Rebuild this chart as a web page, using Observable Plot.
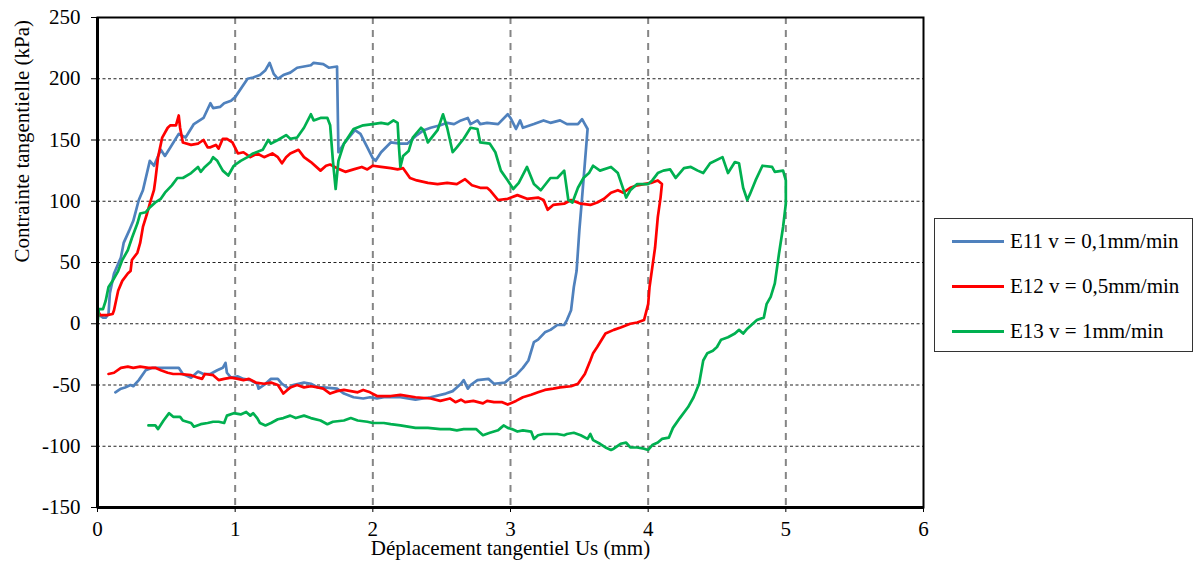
<!DOCTYPE html>
<html>
<head>
<meta charset="utf-8">
<script src="https://cdn.jsdelivr.net/npm/d3@7"></script>
<script src="https://cdn.jsdelivr.net/npm/@observablehq/plot@0.6"></script>
<style>
  html, body { margin: 0; padding: 0; background: #fff; overflow: hidden; }
  #wrap { position: relative; width: 1194px; height: 565px; font-family: "Liberation Serif", serif; }
  #wrap svg text { font-family: "Liberation Serif", serif; }
  #legend { position: absolute; left: 934px; top: 218px; width: 259px; height: 134px; box-sizing: border-box; border: 1px solid #333; background: #fff; }
  .item { position: absolute; left: 0; height: 30px; width: 100%; }
  .swatch { position: absolute; left: 17px; top: 13.5px; width: 52px; height: 3px; }
  .lab { position: absolute; left: 75px; top: 0; line-height: 30px; font-size: 21px; font-family: "Liberation Serif", serif; color: #000; white-space: nowrap; }
</style>
</head>
<body>
<div id="wrap"><div id="legend"></div></div>
<script>
// ---- data ----
const seriesNames = ["E11 v = 0,1mm/min", "E12 v = 0,5mm/min", "E13 v = 1mm/min"];
const seriesColors = ["#4F81BD", "#FF0000", "#00B050"];
const xTicks = [0, 1, 2, 3, 4, 5, 6];
const yTicks = [-150, -100, -50, 0, 50, 100, 150, 200, 250];
const xGrid = [1, 2, 3, 4, 5];
const yGrid = [-100, -50, 0, 50, 100, 150, 200];
const xLabel = "Déplacement tangentiel Us (mm)";
const yLabel = "Contrainte tangentielle (kPa)";

const E11x = [0,0.04,0.06,0.08,0.09,0.12,0.17,0.19,0.23,0.26,0.30,0.33,0.38,0.41,0.46,0.49,0.53,0.59,0.64,0.70,0.77,0.82,0.84,0.89,0.92,0.97,1.00,1.09,1.13,1.18,1.22,1.25,1.28,1.31,1.35,1.40,1.45,1.55,1.57,1.64,1.68,1.74,1.75,1.79,1.87,1.91,1.96,2.00,2.02,2.06,2.13,2.20,2.25,2.32,2.37,2.42,2.49,2.54,2.59,2.64,2.69,2.71,2.76,2.78,2.83,2.91,2.98,3.00,3.04,3.07,3.09,3.17,3.24,3.29,3.36,3.41,3.49,3.52,3.54,3.56,
  3.54,3.52,3.50,3.48,3.46,3.44,3.41,3.39,3.34,3.29,3.25,3.20,3.17,3.13,3.09,3.04,3.00,2.96,2.88,2.84,2.76,2.71,2.69,2.66,2.64,2.61,2.58,2.53,2.42,2.31,2.20,2.13,2.08,2.03,1.98,1.93,1.86,1.79,1.74,1.64,1.60,1.55,1.50,1.42,1.39,1.34,1.31,1.26,1.21,1.17,1.16,1.11,1.06,1.02,0.97,0.94,0.93,0.91,0.87,0.82,0.77,0.73,0.68,0.62,0.59,0.51,0.46,0.40,0.35,0.30,0.26,0.24,0.20,0.17,0.13];
const E11y = [8,5,5,8,25,41,54,66,76,84,101,109,133,129,142,137,144,155,152,163,168,180,176,177,180,182,185,200,201,203,207,213,204,200,203,205,209,211,213,212,209,210,140,147,158,155,144,135,133,140,148,147,147,154,158,160,162,164,163,166,168,163,166,163,164,163,171,168,159,166,160,163,166,164,166,163,163,167,163,159,
  131,103,76,43,30,11,3,-1,-1,-5,-7,-13,-15,-30,-36,-42,-44,-48,-49,-45,-46,-50,-53,-46,-49,-52,-55,-57,-60,-62,-60,-60,-60,-61,-60,-61,-60,-57,-53,-52,-52,-49,-48,-50,-53,-49,-45,-45,-50,-53,-49,-46,-45,-43,-44,-40,-32,-36,-38,-41,-41,-39,-44,-41,-36,-36,-36,-36,-38,-46,-51,-50,-52,-53,-56];

const E12x = [0,0.01,0.02,0.07,0.11,0.12,0.15,0.18,0.22,0.24,0.25,0.29,0.31,0.33,0.36,0.38,0.41,0.42,0.44,0.47,0.51,0.53,0.57,0.59,0.60,0.62,0.68,0.73,0.77,0.80,0.82,0.86,0.88,0.91,0.94,0.98,1.02,1.06,1.11,1.16,1.21,1.27,1.31,1.34,1.37,1.40,1.46,1.50,1.55,1.62,1.66,1.69,1.74,1.80,1.86,1.92,1.96,2.00,2.06,2.13,2.18,2.22,2.27,2.32,2.40,2.47,2.54,2.61,2.67,2.72,2.78,2.83,2.85,2.91,2.98,3.05,3.12,3.20,3.24,3.27,3.31,3.39,3.44,3.51,3.58,3.63,3.68,3.73,3.78,3.82,3.87,3.92,3.97,4.02,4.07,4.10,
  4.09,4.07,4.05,4.03,4.01,4.00,3.97,3.92,3.87,3.80,3.75,3.69,3.63,3.60,3.58,3.54,3.49,3.44,3.36,3.31,3.25,3.20,3.15,3.09,3.04,2.98,2.94,2.88,2.83,2.80,2.73,2.67,2.64,2.60,2.56,2.49,2.42,2.31,2.20,2.13,2.08,2.03,1.98,1.93,1.89,1.84,1.79,1.74,1.69,1.64,1.60,1.55,1.50,1.45,1.40,1.35,1.31,1.26,1.21,1.15,1.10,1.06,1.02,0.97,0.92,0.88,0.84,0.78,0.76,0.73,0.68,0.60,0.55,0.51,0.46,0.42,0.37,0.31,0.26,0.22,0.17,0.12,0.08];
const E12y = [5,9,7,7,8,11,27,35,41,43,52,58,66,79,90,98,109,117,136,152,160,162,162,170,160,148,146,147,150,144,144,146,143,151,151,148,139,140,136,139,136,139,136,131,136,139,142,136,132,125,129,130,127,124,126,128,126,129,128,127,126,127,119,117,115,114,115,114,118,113,111,111,109,101,102,105,102,103,101,93,97,98,101,98,97,99,102,107,109,107,111,113,114,115,117,114,
  103,87,62,46,30,16,3,1,0,-3,-5,-8,-19,-24,-30,-41,-49,-51,-52,-53,-54,-56,-58,-60,-63,-66,-64,-64,-63,-65,-63,-64,-62,-64,-61,-63,-61,-60,-58,-59,-59,-59,-56,-54,-56,-55,-54,-55,-57,-53,-52,-51,-52,-50,-52,-57,-50,-48,-49,-48,-45,-46,-45,-44,-45,-46,-42,-41,-45,-44,-42,-41,-41,-40,-38,-36,-36,-35,-36,-35,-36,-40,-41];

const E13x = [0,0.01,0.04,0.06,0.08,0.11,0.15,0.18,0.22,0.25,0.29,0.31,0.35,0.38,0.42,0.46,0.49,0.54,0.58,0.62,0.68,0.73,0.75,0.78,0.82,0.84,0.87,0.91,0.95,0.99,1.04,1.09,1.13,1.20,1.24,1.26,1.31,1.37,1.40,1.45,1.50,1.55,1.57,1.62,1.67,1.69,1.71,1.73,1.75,1.79,1.86,1.93,2.00,2.06,2.11,2.15,2.18,2.19,2.20,2.22,2.26,2.29,2.35,2.37,2.40,2.47,2.51,2.54,2.58,2.61,2.66,2.71,2.76,2.78,2.85,2.89,2.93,2.98,3.02,3.06,3.12,3.17,3.22,3.29,3.34,3.39,3.40,3.42,3.45,3.49,3.53,3.57,3.60,3.65,3.73,3.78,3.84,3.87,3.92,4.00,4.03,4.07,4.11,4.16,4.20,4.26,4.31,4.36,4.40,4.45,4.54,4.58,4.63,4.66,4.69,4.72,4.74,4.78,4.83,4.90,4.92,4.98,5.00,
  5.00,4.98,4.95,4.92,4.89,4.86,4.84,4.79,4.76,4.72,4.69,4.66,4.63,4.58,4.53,4.50,4.47,4.43,4.40,4.37,4.33,4.29,4.23,4.18,4.15,4.10,4.07,4.03,4.00,3.97,3.92,3.87,3.84,3.80,3.75,3.73,3.69,3.65,3.60,3.58,3.56,3.51,3.46,3.41,3.39,3.34,3.29,3.24,3.20,3.17,3.15,3.09,3.05,3.01,2.98,2.95,2.93,2.91,2.85,2.80,2.78,2.75,2.71,2.66,2.61,2.56,2.49,2.40,2.31,2.20,2.13,2.08,2.00,1.96,1.89,1.84,1.79,1.71,1.67,1.62,1.55,1.50,1.44,1.40,1.35,1.31,1.26,1.22,1.18,1.16,1.13,1.11,1.08,1.04,0.99,0.94,0.92,0.88,0.84,0.80,0.75,0.70,0.68,0.62,0.60,0.55,0.52,0.48,0.44,0.42,0.37];
const E13y = [0,12,12,19,30,35,43,52,60,70,82,90,91,95,99,102,107,113,119,119,123,128,124,128,132,136,133,125,121,129,133,136,139,142,150,147,150,154,151,152,160,171,166,168,168,162,133,110,133,147,159,162,163,164,163,166,164,144,128,137,141,152,160,158,148,158,171,160,140,144,151,160,159,148,147,140,125,117,110,115,128,114,109,119,119,125,117,101,99,111,119,123,129,125,128,123,103,109,114,114,117,123,125,126,119,127,128,125,123,131,136,123,132,131,111,101,106,117,129,128,124,125,117,
  98,79,57,33,22,16,5,3,0,-4,-8,-5,-8,-11,-13,-19,-22,-24,-30,-49,-60,-68,-77,-85,-93,-94,-97,-99,-103,-102,-101,-101,-97,-98,-102,-103,-101,-98,-95,-90,-94,-91,-89,-90,-91,-90,-90,-90,-91,-94,-88,-87,-88,-86,-85,-83,-85,-87,-89,-91,-89,-86,-86,-86,-87,-86,-86,-85,-85,-83,-82,-81,-81,-80,-79,-77,-79,-80,-82,-79,-77,-75,-77,-75,-77,-78,-81,-83,-81,-77,-73,-75,-72,-74,-73,-75,-81,-80,-80,-81,-82,-84,-81,-79,-76,-76,-73,-79,-86,-83,-83];

// ---- build ----
const FONT = '"Liberation Serif", serif';
const series = [
  {name: seriesNames[0], color: seriesColors[0], xs: E11x, ys: E11y},
  {name: seriesNames[1], color: seriesColors[1], xs: E12x, ys: E12y},
  {name: seriesNames[2], color: seriesColors[2], xs: E13x, ys: E13y}
];
const rowsOf = s => s.xs.map((x, i) => ({x, y: s.ys[i]}));

const chart = Plot.plot({
  width: 1194,
  height: 565,
  marginLeft: 97,
  marginRight: 271,
  marginTop: 17,
  marginBottom: 58,
  style: {
    fontFamily: FONT,
    fontSize: "21px",
    color: "#000",
    background: "#fff",
    overflow: "visible"
  },
  x: {domain: [0, 6]},
  y: {domain: [-150, 250]},
  marks: [
    Plot.ruleY(yGrid, {stroke: "#222", strokeWidth: 1.2, strokeDasharray: "3,2.5"}),
    Plot.ruleX(xGrid, {stroke: "#858585", strokeWidth: 2, strokeDasharray: "7,6"}),
    ...series.map(s => Plot.line(rowsOf(s), {x: "x", y: "y", stroke: s.color, strokeWidth: 2.7, strokeLinejoin: "round", strokeLinecap: "round"})),
    Plot.frame({stroke: "#000", strokeWidth: 2}),
    Plot.ruleX([0], {stroke: "#000", strokeWidth: 3}),
    Plot.ruleY([-150], {stroke: "#000", strokeWidth: 3}),
    Plot.axisX({ticks: xTicks, tickSize: 5, tickPadding: 9, tickFormat: d => String(d), label: null, stroke: "#000", fontFamily: FONT, fontSize: 21}),
    Plot.axisY({ticks: yTicks, tickSize: 6, tickPadding: 11, tickFormat: d => String(d), label: null, stroke: "#000", fontFamily: FONT, fontSize: 21}),
    Plot.text([xLabel], {text: d => d, frameAnchor: "bottom", dy: 47, fontSize: 21, fontFamily: FONT, fill: "#000"}),
    Plot.text([yLabel], {text: d => d, frameAnchor: "left", dx: -75, rotate: -90, fontSize: 21, fontFamily: FONT, fill: "#000"})
  ]
});
document.getElementById("wrap").prepend(chart);

// legend
const legend = document.getElementById("legend");
const rowTops = [7, 52, 97];
series.forEach((s, i) => {
  const item = document.createElement("div");
  item.className = "item";
  item.style.top = rowTops[i] + "px";
  const sw = document.createElement("div");
  sw.className = "swatch";
  sw.style.background = s.color;
  const lab = document.createElement("div");
  lab.className = "lab";
  lab.textContent = s.name;
  item.appendChild(sw);
  item.appendChild(lab);
  legend.appendChild(item);
});
</script>
</body>
</html>
